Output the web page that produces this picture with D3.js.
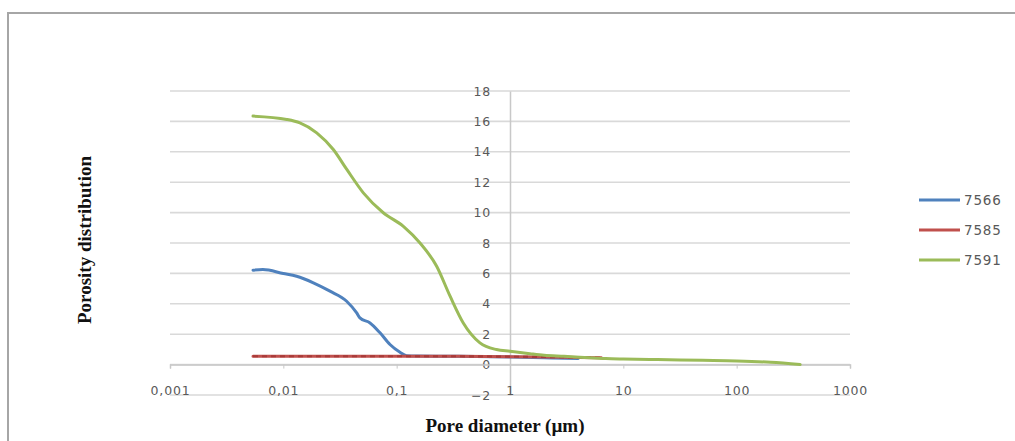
<!DOCTYPE html>
<html><head><meta charset="utf-8">
<script src="https://cdn.jsdelivr.net/npm/d3@7"></script>
<style>body{margin:0;background:#fff}svg{display:block}</style>
</head><body><svg id="c" width="1015" height="441"></svg>
<script>
const seriesNames = ["7566", "7585", "7591"];
const seriesColors = ["#4f81bd", "#c0504d", "#9bbb59"];
const xTickValues = [0.001, 0.01, 0.1, 1, 10, 100, 1000];
const xTickLabels = ["0,001", "0,01", "0,1", "1", "10", "100", "1000"];
const yTickValues = [-2, 0, 2, 4, 6, 8, 10, 12, 14, 16, 18];

const x7566 = [0.0054, 0.0066, 0.01, 0.0131, 0.0184, 0.0258, 0.0362, 0.0444, 0.0474, 0.0582, 0.0713, 0.0873, 0.107, 0.122, 0.15, 0.3, 1, 2, 4];
const y7566 = [6.21, 6.25, 5.99, 5.81, 5.38, 4.83, 4.17, 3.4, 3.07, 2.74, 2.09, 1.32, 0.81, 0.59, 0.56, 0.55, 0.5, 0.45, 0.4];

const x7585 = [0.0054, 0.01, 0.03, 0.1, 0.3, 1, 2, 4, 6.4];
const y7585 = [0.55, 0.55, 0.55, 0.55, 0.55, 0.52, 0.5, 0.47, 0.45];

const x7591 = [0.0054, 0.0107, 0.014, 0.0197, 0.0276, 0.0363, 0.0508, 0.0762, 0.1146, 0.1607, 0.2254, 0.296, 0.387, 0.543, 0.76, 1.0, 1.5, 2, 3, 5, 7, 10, 20, 50, 100, 200, 363];
const y7591 = [16.35, 16.13, 15.9, 15.25, 14.15, 12.84, 11.3, 9.99, 9.1, 8.0, 6.47, 4.5, 2.74, 1.43, 0.99, 0.88, 0.72, 0.62, 0.55, 0.45, 0.4, 0.37, 0.33, 0.28, 0.24, 0.15, 0.0];

const xs = [x7566, x7585, x7591];
const ys = [y7566, y7585, y7591];

const svg = d3.select("#c");
svg.append("rect").attr("x", 8).attr("y", 13).attr("width", 1030).attr("height", 450)
  .attr("fill", "#fff").attr("stroke", "#a6a6a6").attr("stroke-width", 2);

const x = d3.scaleLog().domain([0.001, 1000]).range([170, 850]);
const y = d3.scaleLinear().domain([-2, 18]).range([395, 91]);

// gridlines
svg.append("g").selectAll("line").data(yTickValues).join("line")
  .attr("x1", x.range()[0]).attr("x2", x.range()[1])
  .attr("y1", d => y(d)).attr("y2", d => y(d))
  .attr("stroke", "#d9d9d9").attr("stroke-width", 1.6);

// y axis at x=1
const yAxis = d3.axisLeft(y).tickValues(yTickValues).tickSize(0).tickPadding(19).tickFormat(d3.format("d"));
const gy = svg.append("g").attr("transform", `translate(${x(1)},0)`).call(yAxis);
gy.select(".domain").attr("stroke", "#c8c8c8").attr("stroke-width", 1.5);
gy.selectAll("text").attr("fill", "#595959").style("font-family", "DejaVu Sans").style("font-size", "12.5px").style("letter-spacing", "0.8px");

// x axis at y=0
const xAxis = d3.axisBottom(x).tickValues(xTickValues).tickSize(4).tickFormat((d, i) => xTickLabels[i]);
const gx = svg.append("g").attr("transform", `translate(0,${y(0)})`).call(xAxis);
gx.select(".domain").attr("stroke", "#c8c8c8").attr("stroke-width", 1.5);
gx.selectAll(".tick line").attr("stroke", "#c8c8c8");
gx.selectAll("text").attr("fill", "#595959").attr("y", 22).style("font-family", "DejaVu Sans").style("font-size", "12.5px").style("letter-spacing", "0.8px");

// series
const line = d3.line().x(d => x(d[0])).y(d => y(d[1])).curve(d3.curveMonotoneX);
seriesNames.forEach((name, i) => {
  const pts = xs[i].map((v, j) => [v, ys[i][j]]);
  svg.append("path").datum(pts).attr("d", line).attr("fill", "none")
    .attr("stroke", seriesColors[i]).attr("stroke-width", 3).attr("stroke-linejoin", "round").attr("stroke-linecap", "round");
  if (i === 1) {
    svg.append("path").datum(pts).attr("d", line).attr("fill", "none")
      .attr("stroke", "#a83a38").attr("stroke-width", 2.2).attr("stroke-dasharray", "5,4");
  }
});

// legend
const lg = svg.append("g");
seriesNames.forEach((name, i) => {
  const ly = 200 + i * 30;
  lg.append("line").attr("x1", 919).attr("x2", 960).attr("y1", ly).attr("y2", ly)
    .attr("stroke", seriesColors[i]).attr("stroke-width", 3);
  lg.append("text").attr("x", 964).attr("y", ly + 5).text(name)
    .attr("fill", "#595959").style("font-family", "DejaVu Sans").style("font-size", "13.5px").style("letter-spacing", "0.8px");
});

// axis titles
svg.append("text").attr("x", 505).attr("y", 432).attr("text-anchor", "middle")
  .style("font-family", "Liberation Serif").style("font-weight", "bold").style("font-size", "19px")
  .attr("fill", "#111").text("Pore diameter (µm)");
svg.append("text").attr("transform", "translate(91,240) rotate(-90)").attr("text-anchor", "middle")
  .style("font-family", "Liberation Serif").style("font-weight", "bold").style("font-size", "19px")
  .attr("fill", "#111").text("Porosity distribution");
</script></body></html>
